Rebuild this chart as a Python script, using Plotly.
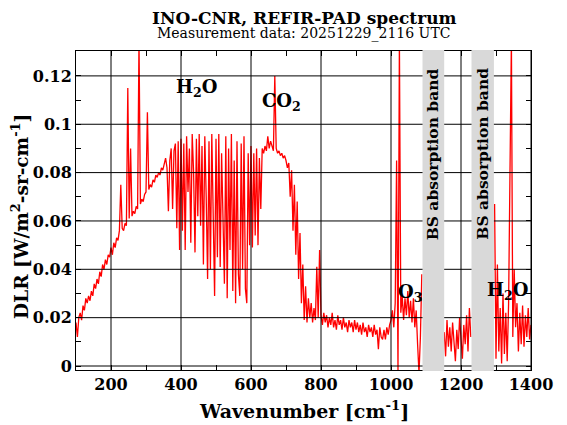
import plotly.graph_objects as go

# REFIR-PAD downwelling radiance, sampled every 4 cm-1 from 100 cm-1
wn_start = 100
wn_step = 4

dlr_100 = [0.018, 0.012, 0.020, 0.022, 0.019, 0.025, 0.023, 0.028, 0.026, 0.029,
           0.027, 0.031, 0.029, 0.034, 0.032, 0.036, 0.034, 0.039, 0.037, 0.042,
           0.040, 0.044, 0.042, 0.046, 0.045]
dlr_200 = [0.049, 0.046, 0.051, 0.049, 0.053, 0.052, 0.056, 0.075, 0.057, 0.056,
           0.059, 0.058, 0.115, 0.061, 0.090, 0.062, 0.064, 0.063, 0.066, 0.065,
           0.135, 0.067, 0.069, 0.068, 0.071]
dlr_300 = [0.072, 0.105, 0.073, 0.075, 0.074, 0.077, 0.076, 0.079, 0.078, 0.080,
           0.079, 0.082, 0.081, 0.084, 0.086, 0.082, 0.064, 0.085, 0.090, 0.065,
           0.089, 0.092, 0.057, 0.093, 0.048]
dlr_400 = [0.094, 0.056, 0.092, 0.048, 0.095, 0.072, 0.090, 0.051, 0.096, 0.080,
           0.047, 0.094, 0.062, 0.096, 0.058, 0.091, 0.042, 0.095, 0.070, 0.036,
           0.093, 0.040, 0.096, 0.055, 0.029]
dlr_500 = [0.094, 0.045, 0.096, 0.041, 0.088, 0.060, 0.034, 0.095, 0.028, 0.090,
           0.048, 0.096, 0.031, 0.085, 0.026, 0.093, 0.038, 0.029, 0.092, 0.040,
           0.095, 0.032, 0.026, 0.088, 0.050]
dlr_600 = [0.091, 0.049, 0.088, 0.054, 0.090, 0.050, 0.086, 0.065, 0.090, 0.088,
           0.091, 0.089, 0.095, 0.090, 0.093, 0.091, 0.089, 0.120, 0.090, 0.088,
           0.089, 0.087, 0.088, 0.086, 0.087]
dlr_700 = [0.085, 0.082, 0.084, 0.070, 0.081, 0.056, 0.075, 0.046, 0.068, 0.036,
           0.055, 0.026, 0.042, 0.019, 0.033, 0.018, 0.028, 0.020, 0.026, 0.018,
           0.024, 0.019, 0.041, 0.020, 0.048]
dlr_800 = [0.021, 0.017, 0.022, 0.018, 0.021, 0.016, 0.020, 0.017, 0.022, 0.016,
           0.019, 0.015, 0.021, 0.017, 0.019, 0.015, 0.020, 0.016, 0.018, 0.014,
           0.019, 0.016, 0.018, 0.014, 0.019]
dlr_900 = [0.015, 0.018, 0.014, 0.017, 0.013, 0.018, 0.014, 0.016, 0.012, 0.017,
           0.014, 0.016, 0.012, 0.017, 0.013, 0.015, 0.007, 0.016, 0.012, 0.011,
           0.015, 0.011, 0.016, 0.013, 0.017]
dlr_1000 = [0.019, 0.023, 0.016, 0.026, 0.085, -0.003, 0.135, 0.022, 0.029, 0.019,
            0.028, 0.021, 0.031, 0.020, 0.027, 0.018, 0.028, 0.016, 0.023, 0.009,
            -0.003, 0.012, 0.038, None, None]
dlr_1100 = [None, None, None, None, None, None, None, None, None, None,
            None, None, None, 0.014, 0.004, 0.019, 0.008, 0.016, 0.006, 0.018,
            0.009, 0.002, 0.015, 0.007, 0.020]
dlr_1200 = [0.010, 0.003, 0.017, 0.009, 0.021, 0.006, 0.024, 0.012, None, None,
            None, None, None, None, None, None, None, None, None, None,
            None, None, None, None, 0.067]
dlr_1300 = [0.003, 0.042, 0.006, 0.024, 0.001, 0.030, 0.005, 0.022, 0.002, 0.026,
            0.085, 0.135, 0.012, 0.040, 0.016, 0.026, 0.006, 0.022, 0.009, 0.025,
            0.008, 0.021, 0.012, 0.024, 0.011, 0.017]

dlr = (dlr_100 + dlr_200 + dlr_300 + dlr_400 + dlr_500 + dlr_600 + dlr_700
       + dlr_800 + dlr_900 + dlr_1000 + dlr_1100 + dlr_1200 + dlr_1300)
wavenumber = [wn_start + wn_step * i for i in range(len(dlr))]

# beam splitter absorption bands
bs_bands = [(1090, 1152), (1230, 1294)]
x_grid = [200, 400, 600, 800, 1000, 1200, 1400]
y_grid = [0, 0.02, 0.04, 0.06, 0.08, 0.1, 0.12]

# gas labels: text, wavenumber, radiance
gas_labels = [("<b>H<sub>2</sub>O</b>", 443, 0.115),
              ("<b>CO<sub>2</sub></b>", 686, 0.109),
              ("<b>O<sub>3</sub></b>", 1053, 0.030),
              ("<b>H<sub>2</sub>O</b>", 1333, 0.031)]

serif = "DejaVu Serif"

fig = go.Figure()
fig.add_trace(go.Scatter(x=wavenumber, y=dlr, mode="lines",
                         line=dict(color="#ff0000", width=1.3),
                         connectgaps=False, showlegend=False))

shapes = []
for xv in x_grid:
    shapes.append(dict(type="line", xref="x", yref="paper", x0=xv, x1=xv, y0=0, y1=1,
                       line=dict(color="black", width=1), layer="above"))
for yv in y_grid:
    shapes.append(dict(type="line", xref="paper", yref="y", x0=0, x1=1, y0=yv, y1=yv,
                       line=dict(color="black", width=1), layer="above"))
for b0, b1 in bs_bands:
    shapes.append(dict(type="rect", xref="x", yref="paper", x0=b0, x1=b1, y0=-0.003, y1=1.003,
                       fillcolor="#d9d9d9", line=dict(width=0), layer="above"))

annotations = []
for b0, b1 in bs_bands:
    annotations.append(dict(text="<b>BS absorption band</b>", x=(b0 + b1) / 2, y=0.0877,
                            xref="x", yref="y", showarrow=False, textangle=-90,
                            xanchor="center", yanchor="middle",
                            font=dict(family=serif, size=15.5, color="black")))
for txt, xv, yv in gas_labels:
    annotations.append(dict(text=txt, x=xv, y=yv, xref="x", yref="y", showarrow=False,
                            xanchor="center", yanchor="middle",
                            font=dict(family=serif, size=18, color="black")))

annotations.append(dict(text="<b>INO-CNR, REFIR-PAD spectrum</b>", x=0.5, y=1.103,
                        xref="paper", yref="paper", showarrow=False,
                        xanchor="center", yanchor="middle",
                        font=dict(family=serif, size=17, color="black")))
annotations.append(dict(text="Measurement data: 20251229_2116 UTC", x=0.5, y=1.056,
                        xref="paper", yref="paper", showarrow=False,
                        xanchor="center", yanchor="middle",
                        font=dict(family=serif, size=14, color="black")))
annotations.append(dict(text="<b>Wavenumber [cm<sup>-1</sup>]</b>", x=0.5, y=-0.125,
                        xref="paper", yref="paper", showarrow=False,
                        xanchor="center", yanchor="middle",
                        font=dict(family=serif, size=19, color="black")))
annotations.append(dict(text="<b>DLR [W/m<sup>2</sup>-sr-cm<sup>-1</sup>]</b>", x=-0.123, y=0.48,
                        xref="paper", yref="paper", showarrow=False, textangle=-90,
                        xanchor="center", yanchor="middle",
                        font=dict(family=serif, size=18.5, color="black")))

# page body adds an 8 px offset, so the figure is a little smaller than the window
fig.update_layout(
    width=559, height=417,
    margin=dict(l=68, r=36, t=43, b=55),
    paper_bgcolor="white", plot_bgcolor="white",
    shapes=shapes, annotations=annotations,
    xaxis=dict(range=[100, 1400], tick0=0, dtick=200, showgrid=False, zeroline=False,
               showline=True, linecolor="black", linewidth=1, mirror="allticks",
               ticks="inside", ticklen=5, tickcolor="black",
               minor=dict(dtick=100, ticks="inside", ticklen=5, tickcolor="black", showgrid=False),
               tickfont=dict(family=serif, size=16, color="black", weight="bold")),
    yaxis=dict(range=[-0.00165, 0.1303], tick0=0, dtick=0.02, showgrid=False, zeroline=False,
               showline=True, linecolor="black", linewidth=1, mirror="allticks",
               ticks="inside", ticklen=5, tickcolor="black",
               minor=dict(dtick=0.01, ticks="inside", ticklen=5, tickcolor="black", showgrid=False),
               tickfont=dict(family=serif, size=16, color="black", weight="bold")),
)

fig.write_html("out.html")
